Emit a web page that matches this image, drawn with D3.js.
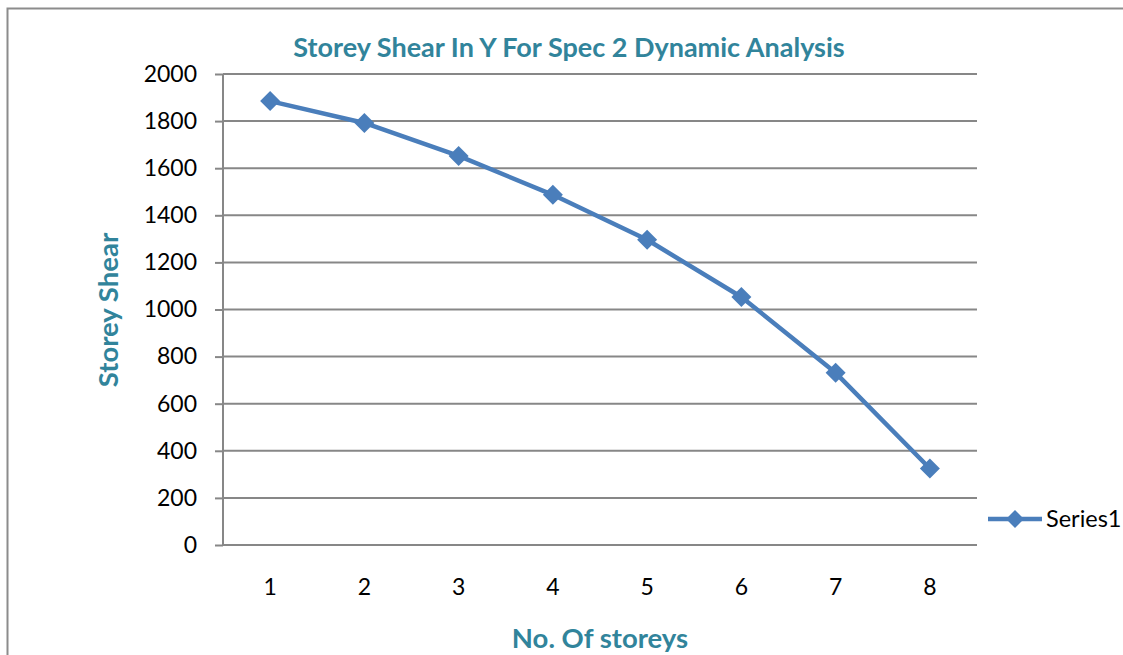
<!DOCTYPE html>
<html><head><meta charset="utf-8">
<script src="https://cdn.jsdelivr.net/npm/d3@7"></script>
<style>body{margin:0;background:#fff;}svg{display:block;}</style>
</head><body>
<svg id="c" width="1123" height="655"></svg>
<script>
const categories = ["1","2","3","4","5","6","7","8"];
const values = [1885, 1792, 1652, 1487, 1296, 1053, 731, 325];
const yTicks = [0,200,400,600,800,1000,1200,1400,1600,1800,2000];
const seriesName = "Series1";
const title = "Storey Shear In Y For Spec 2 Dynamic Analysis";
const xTitle = "No. Of storeys";
const yTitle = "Storey Shear";

const svg = d3.select("#c");
const font = "Lato, 'Open Sans', sans-serif";
const teal = "#31849B";
const blue = "#4A7EBB";
const grid = "#878787";

svg.append("rect").attr("x",7.5).attr("y",8.5).attr("width",1200).attr("height",700)
  .attr("fill","none").attr("stroke","#8c8c8c").attr("stroke-width",2);

const L=223, R=977, T=74, B=545;
const x = d3.scaleBand().domain(categories).range([L,R]);
const y = d3.scaleLinear().domain([0,2000]).range([B,T]);

const gy = svg.append("g").attr("transform",`translate(${L},0)`)
  .call(d3.axisLeft(y).tickValues(yTicks).tickFormat(d3.format("d")).tickSize(8).tickPadding(18));
gy.select(".domain").remove();
gy.selectAll(".tick line").attr("stroke",grid).attr("stroke-width",2);
gy.selectAll(".tick text").attr("font-family",font).attr("font-size",23).attr("fill","#000");
svg.append("g").selectAll("line").data(yTicks).join("line")
  .attr("x1",L).attr("x2",R).attr("y1",d=>y(d)).attr("y2",d=>y(d))
  .attr("stroke",grid).attr("stroke-width",2);
svg.append("line").attr("x1",L).attr("x2",L).attr("y1",T).attr("y2",B)
  .attr("stroke",grid).attr("stroke-width",2);

const gx = svg.append("g").attr("transform",`translate(0,${B})`)
  .call(d3.axisBottom(x).tickSize(0).tickPadding(34));
gx.select(".domain").remove();
gx.selectAll(".tick text").attr("font-family",font).attr("font-size",23).attr("fill","#000");

const line = d3.line().x((d,i)=>x(categories[i])+x.bandwidth()/2).y(d=>y(d));
svg.append("path").datum(values).attr("d",line).attr("fill","none")
  .attr("stroke",blue).attr("stroke-width",4.5).attr("stroke-linejoin","round");
svg.append("g").selectAll("path").data(values).join("path")
  .attr("transform",(d,i)=>`translate(${x(categories[i])+x.bandwidth()/2},${y(d)}) rotate(45)`)
  .attr("d",d3.symbol().type(d3.symbolSquare).size(200)).attr("fill",blue);

svg.append("text").attr("x",569).attr("y",57).attr("text-anchor","middle")
  .attr("font-family",font).attr("font-weight","bold").attr("font-size",27).attr("fill",teal).text(title);
svg.append("text").attr("x",600).attr("y",648).attr("text-anchor","middle")
  .attr("font-family",font).attr("font-weight","bold").attr("font-size",27.5).attr("fill",teal).text(xTitle);
svg.append("text").attr("transform","translate(118,310) rotate(-90)").attr("text-anchor","middle")
  .attr("font-family",font).attr("font-weight","bold").attr("font-size",27.5).attr("fill",teal).text(yTitle);

const lg = svg.append("g");
lg.append("line").attr("x1",988).attr("x2",1042).attr("y1",519).attr("y2",519).attr("stroke",blue).attr("stroke-width",4.5);
lg.append("path").attr("transform","translate(1015,519) rotate(45)").attr("d",d3.symbol().type(d3.symbolSquare).size(160)).attr("fill",blue);
lg.append("text").attr("x",1046).attr("y",527).attr("font-family",font).attr("font-size",23.5).attr("fill","#000").text(seriesName);
</script>
</body></html>
